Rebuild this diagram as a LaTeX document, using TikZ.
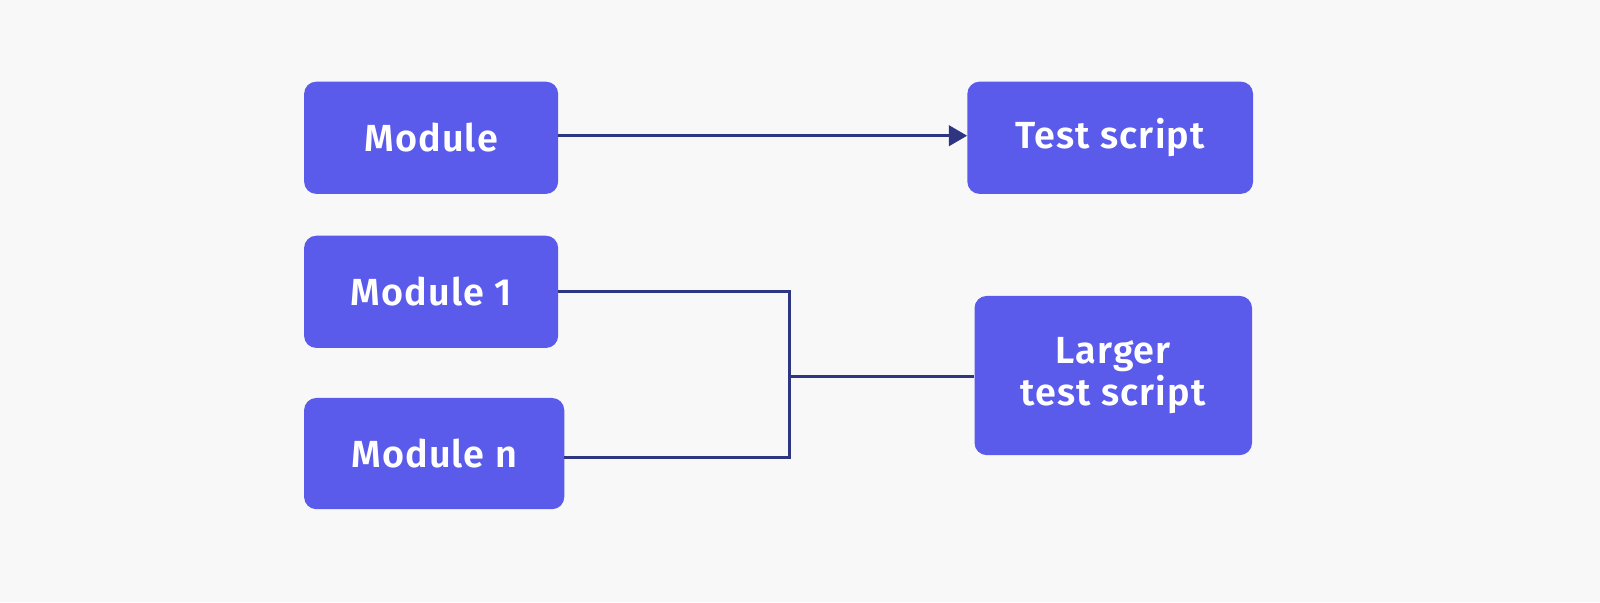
\documentclass[tikz,border=0pt]{standalone}
\usepackage{fontspec}
\setmainfont{Fira Sans}[BoldFont={Fira Sans SemiBold}, LetterSpace=3]
\usetikzlibrary{arrows.meta}
\definecolor{bgc}{HTML}{F8F8F8}
\definecolor{boxc}{HTML}{5B5BEB}
\definecolor{linec}{HTML}{2E3581}
\tikzset{
  modbox/.style={rectangle, rounded corners=12pt, fill=boxc, text=white, inner sep=0pt,
    font=\fontsize{37}{41}\selectfont\bfseries, align=center},
  conn/.style={draw=linec, line width=3.2pt},
}
\begin{document}
\begin{tikzpicture}[x=1pt,y=-1pt]
\fill[bgc] (0,0) rectangle (1568,590);
\useasboundingbox (0,0) rectangle (1568,590);
\node[modbox, minimum width=249pt, minimum height=110pt] (mod) at (422.5,135) {Module};
\node[modbox, minimum width=280pt, minimum height=110pt] (ts) at (1088,135) {Test script};
\node[modbox, minimum width=249pt, minimum height=110pt] (m1) at (422.5,286) {Module 1};
\node[modbox, minimum width=255pt, minimum height=109pt] (mn) at (425.5,444.5) {Module n};
\node[modbox, minimum width=272pt, minimum height=156pt] (lt) at (1091,368) {Larger\\test script};
\coordinate (j) at (773.5,369);
\draw[conn, -{Triangle[length=18pt,width=20pt]}] ([yshift=2pt]mod.east) -- ([yshift=2pt]ts.west);
\draw[conn] (m1.east) -| (j) |- ([yshift=-4pt]mn.east);
\draw[conn] (j) -- (j -| lt.west);
\end{tikzpicture}
\end{document}
